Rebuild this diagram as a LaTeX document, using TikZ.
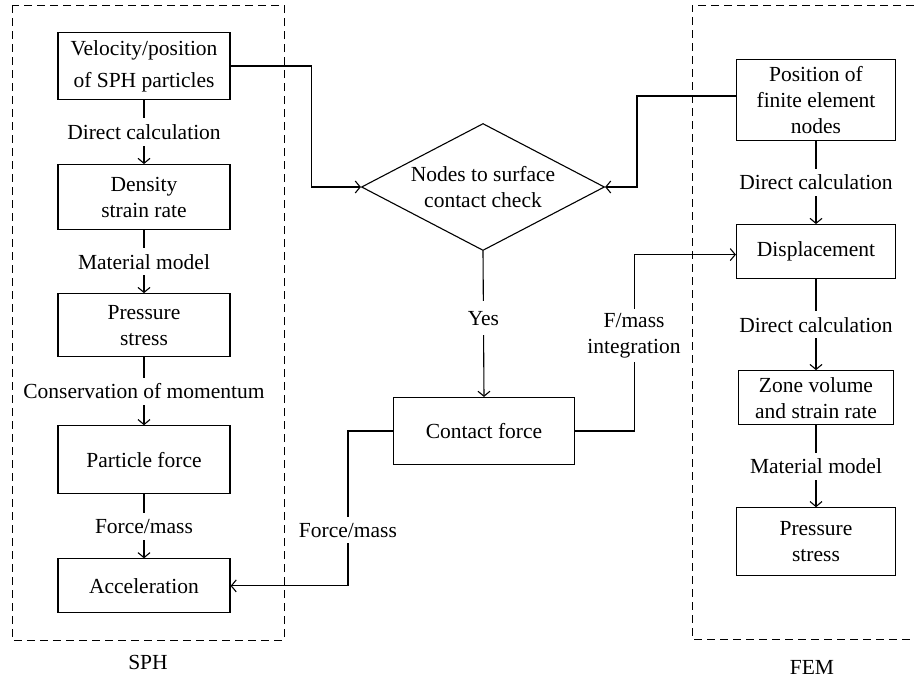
\documentclass[tikz,border=0pt]{standalone}
\usepackage{fontspec}
\setmainfont{Liberation Serif}
\usetikzlibrary{arrows.meta, positioning, shapes.geometric}

\tikzset{
  block/.style={draw, line width=1.1pt, minimum width=172pt, align=center, inner sep=1pt},
  lbl/.style={fill=white, align=center, inner xsep=1pt, inner ysep=6pt},
  flow/.style={line width=1.1pt, -{Straight Barb[length=5pt,width=12pt,line width=1.1pt]}},
  group/.style={line width=1pt, dash pattern=on 8pt off 5pt}
}

\begin{document}
\begin{tikzpicture}[x=1pt, y=-1pt, font=\fontsize{21.5}{26}\selectfont]
    \useasboundingbox (0,0) rectangle (914,680);

    % SPH column
    \node[block, minimum height=67pt] (vel) at (144,66) {Velocity/position\\[6pt]of SPH particles};
    \node[block, minimum height=65pt, below=64pt of vel] (dens) {Density\\strain rate};
    \node[block, minimum height=63pt, below=63pt of dens] (pres) {Pressure\\stress};
    \node[block, minimum height=68pt, below=68pt of pres] (pforce) {Particle force};
    \node[block, minimum height=54pt, below=64pt of pforce] (acc) {Acceleration};

    % FEM column
    \node[block, minimum width=159pt, minimum height=81pt] (fepos) at (816,100) {Position of\\finite element\\nodes};
    \node[block, minimum width=159pt, minimum height=54pt, below=83pt of fepos] (disp) {Displacement};
    \node[block, minimum width=155pt, minimum height=54pt, below=91pt of disp] (zone) {Zone volume\\and strain rate};
    \node[block, minimum width=159pt, minimum height=68pt, below=82pt of zone] (fpres) {Pressure\\stress};

    % middle
    \node[draw, diamond, aspect=1.9, line width=1.1pt, inner sep=0pt, minimum width=243pt, minimum height=127pt, align=center] (check) at (483,187) {Nodes to surface\\contact check};
    \node[block, minimum width=181pt, minimum height=67pt] (cforce) at (484,431) {Contact force};

    % SPH arrows
    \draw[flow] (vel) -- node[lbl] {Direct calculation} (dens);
    \draw[flow] (dens) -- node[lbl] {Material model} (pres);
    \draw[flow] (pres) -- node[lbl] {Conservation of momentum} (pforce);
    \draw[flow] (pforce) -- node[lbl] {Force/mass} (acc);

    % FEM arrows
    \draw[flow] (fepos) -- node[lbl] {Direct calculation} (disp);
    \draw[flow] (disp) -- node[lbl] {Direct calculation} (zone);
    \draw[flow] (zone) -- node[lbl] {Material model} (fpres);

    % contact arrows
    \draw[flow] (vel.east) -- ++(81,0) |- (check.west);
    \draw[flow] ([yshift=4pt]fepos.west) -- ++(-99,0) |- (check.east);
    \draw[flow] (check.south) -- node[lbl, pos=0.46, inner ysep=10pt] {Yes} (cforce.north);
    \draw[flow] (cforce.west) -- ++(-45,0) |- node[lbl, pos=0.32, inner ysep=6pt] {Force/mass} (acc.east);
    \draw[flow] (cforce.east) -- ++(59,0) |- node[lbl, pos=0.27, inner ysep=4pt, inner xsep=3pt] {F/mass\\integration} ([yshift=-3pt]disp.west);

    % dashed groups
    \draw[group] (12,5) rectangle (284,640);
    \draw[group] (914,5) -- (692,5) -- (692,639) -- (914,639);
    \node (sph) at (148,662) {SPH};
    \node (fem) at (812,667) {FEM};
\end{tikzpicture}
\end{document}
